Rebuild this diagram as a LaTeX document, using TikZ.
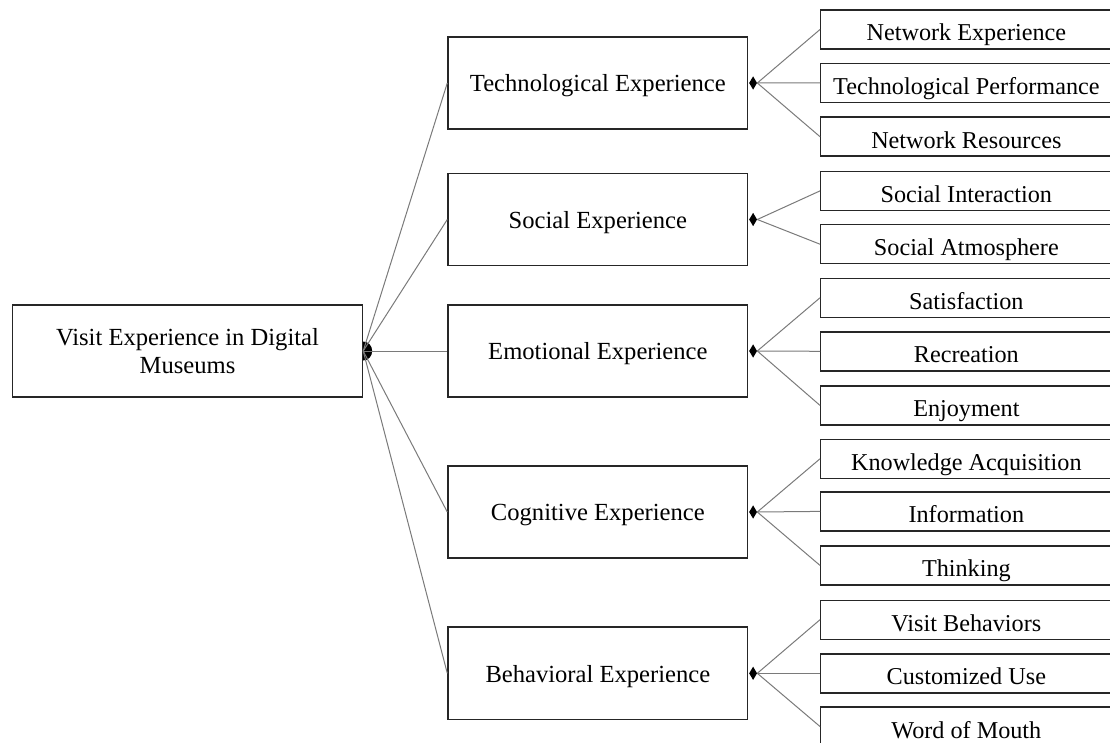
\documentclass[tikz,border=0pt]{standalone}
\usepackage{fontspec}
\setmainfont{Liberation Serif}
\usetikzlibrary{shapes.geometric}
\begin{document}
\begin{tikzpicture}[x=1pt,y=-1pt,
  box/.style={draw=black!85, line width=1.4pt, rectangle, inner sep=0pt, text=black},
  rootbox/.style={box, minimum width=350pt, minimum height=92pt, align=center,
    font=\fontsize{24.6}{27.4}\selectfont},
  dimbox/.style={box, minimum width=299.7pt, minimum height=92.3pt,
    font=\fontsize{24.6}{28}\selectfont, text height=17.8pt, text depth=0pt},
  itembox/.style={box, minimum width=291.3pt, minimum height=39pt,
    font=\fontsize{24.2}{28}\selectfont, text height=23pt, text depth=0pt},
  link/.style={draw=black!52, line width=1pt},
  knot/.style={diamond, fill=black, draw=none, minimum width=8pt, minimum height=13.5pt, inner sep=0pt}
]
\useasboundingbox (0,0) rectangle (1110,743);
\clip (0,0) rectangle (1110,743);

% root
\node[rootbox] (root) at (187.5,351) {Visit Experience in Digital\\Museums};

% dimensions
\node[dimbox] (tech) at (597.85,83)    {Technological Experience};
\node[dimbox] (soc)  at (597.85,219.5) {Social Experience};
\node[dimbox] (emo)  at (597.85,351)   {Emotional Experience};
\node[dimbox] (cog)  at (597.85,512)   {Cognitive Experience};
\node[dimbox] (beh)  at (597.85,673.3) {Behavioral Experience};

% items
\def\ix{966.35}
\node[itembox] (t1) at (\ix,29.5)  {Network Experience};
\node[itembox] (t2) at (\ix,82.8)  {Technological Performance};
\node[itembox] (t3) at (\ix,136.7) {Network Resources};
\node[itembox] (s1) at (\ix,190.9) {Social Interaction};
\node[itembox] (s2) at (\ix,244.2) {Social Atmosphere};
\node[itembox] (e1) at (\ix,297.8) {Satisfaction};
\node[itembox] (e2) at (\ix,351.3) {Recreation};
\node[itembox] (e3) at (\ix,405.4) {Enjoyment};
\node[itembox] (c1) at (\ix,458.8) {Knowledge Acquisition};
\node[itembox] (c2) at (\ix,511.4) {Information};
\node[itembox] (c3) at (\ix,565.4) {Thinking};
\node[itembox] (b1) at (\ix,619.7) {Visit Behaviors};
\node[itembox] (b2) at (\ix,673.3) {Customized Use};
\node[itembox] (b3) at (\ix,726.5) {Word of Mouth};

% aggregation marks on the dimension boxes
\foreach \d in {tech,soc,emo,cog,beh}
  \node[knot, anchor=west] (k\d) at ([xshift=0.5pt]\d.east) {};

% fan mark on the root box
\fill (root.east) ++(0,-9.5) arc[start angle=90, end angle=-90, x radius=9pt, y radius=9.5pt] -- cycle;

% root to dimensions
\foreach \d in {tech,soc,emo,cog,beh}
  \draw[link] (root.east) -- (\d.west);

% dimensions to items
\foreach \d/\items in {tech/{t1,t2,t3}, soc/{s1,s2}, emo/{e1,e2,e3}, cog/{c1,c2,c3}, beh/{b1,b2,b3}}
  \foreach \i in \items
    \draw[link] (k\d.east) -- (\i.west);
\end{tikzpicture}
\end{document}
